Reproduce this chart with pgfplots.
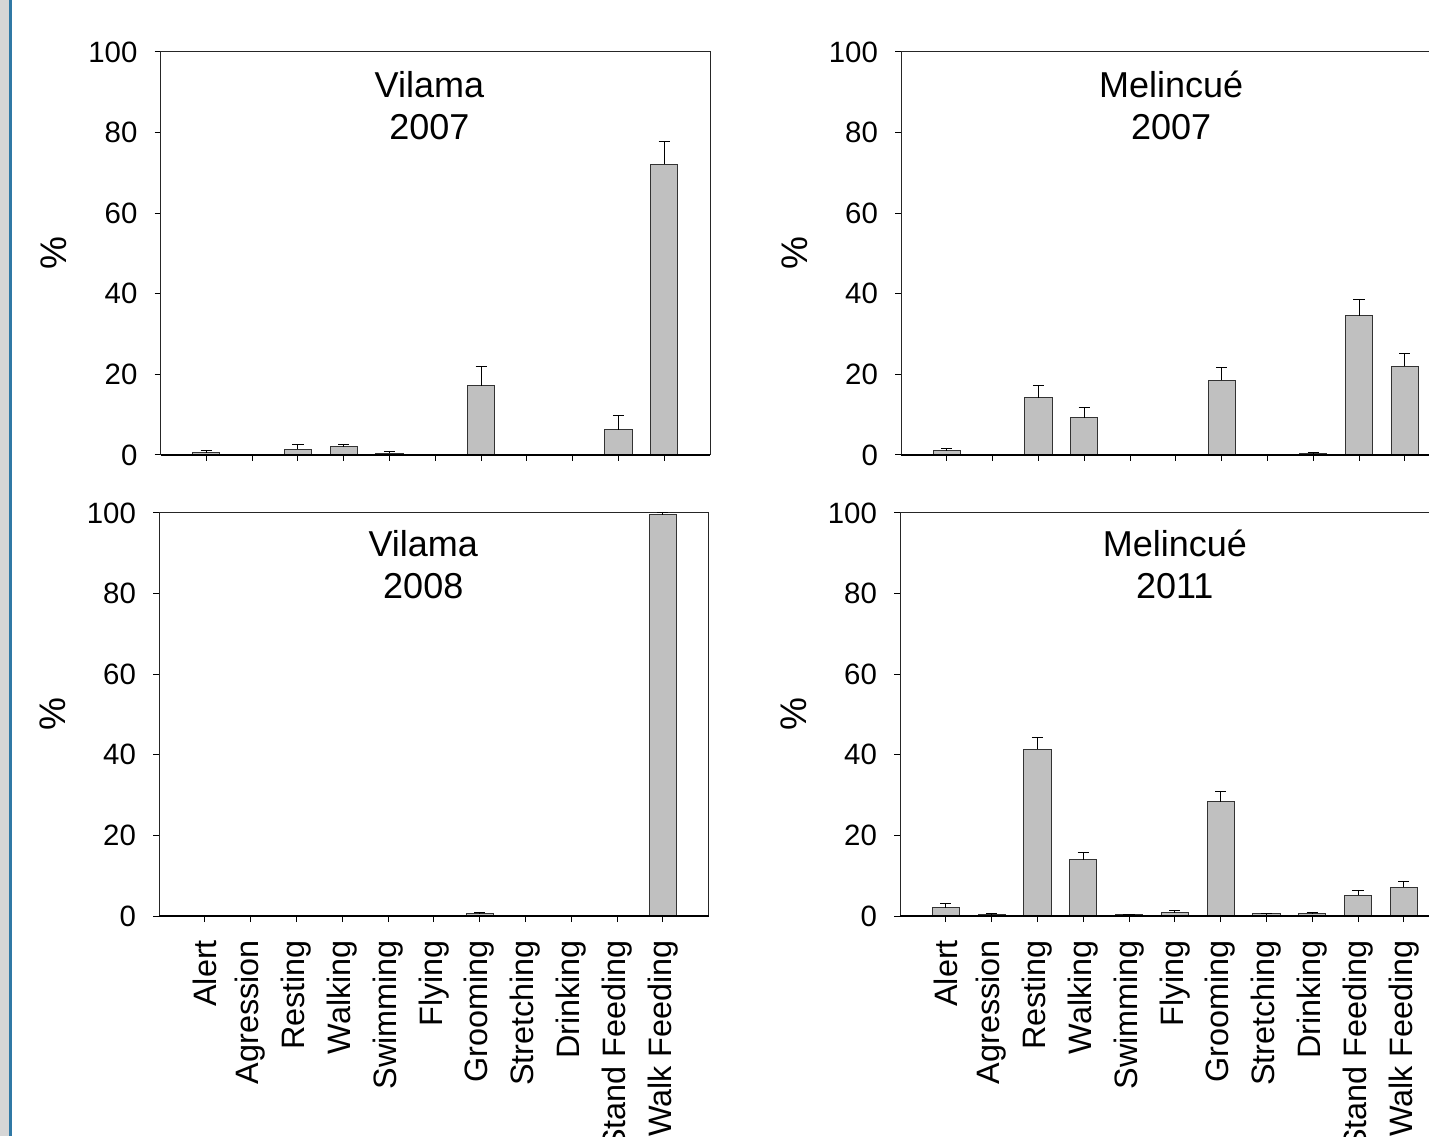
\documentclass[border=0pt]{standalone}
\usepackage{fontspec}
\setmainfont{Liberation Sans}
\usepackage{pgfplots}
\usepackage{pgfplotstable}
\pgfplotsset{compat=1.18}

\definecolor{barfill}{HTML}{C0C0C0}
\definecolor{frameblue}{HTML}{3079A5}
\definecolor{framegray}{HTML}{D6D6D6}

% columns: x (category index), value (%), error (+)
\pgfplotstableread{
x y e
0 0.6 0.5
2 1.4 1.1
3 2.0 0.6
4 0.4 0.5
6 17.2 4.8
9 6.3 3.4
10 72.1 5.8
}\vilamaA
\pgfplotstableread{
x y e
0 1.0 0.6
2 14.2 3.0
3 9.3 2.4
6 18.5 3.1
8 0.3 0.3
9 34.6 4.0
10 22.0 3.3
}\melincueA
\pgfplotstableread{
x y e
6 0.5 0.4
10 99.6 0.4
}\vilamaB
\pgfplotstableread{
x y e
0 2.0 1.0
1 0.4 0.15
2 41.4 3.0
3 14.0 1.7
4 0.3 0.1
5 0.8 0.45
6 28.3 2.5
7 0.5 0.1
8 0.6 0.15
9 5.2 1.1
10 7.1 1.5
}\melincueB

\pgfplotsset{
  panel/.style={
    scale only axis,
    width=274.8pt, height=201.5pt,
    anchor=south west,
    xmin=-1, xmax=11,
    ymin=0, ymax=100,
    ytick={0,20,40,60,80,100},
    xtick={0,1,...,10},
    tick pos=left,
    tick align=outside,
    major tick length=3pt,
    tick style={black, line width=0.5pt},
    axis line style={black!85, line width=0.5pt},
    clip=false,
    /pgf/number format/assume math mode=true,
    yticklabel style={font=\fontsize{14.7}{17}\selectfont, xshift=-5pt},
    ylabel={\%},
    ylabel style={at={(axis description cs:-0.194,0.5)}, anchor=center, font=\fontsize{18.5}{21}\selectfont},
    ybar, bar width=13.6pt,
  },
  nolabels/.style={xticklabels={}},
  catlabels/.style={
    xticklabels={Alert,Agression,Resting,Walking,Swimming,Flying,Grooming,Stretching,Drinking,Stand Feeding,Walk Feeding},
    xticklabel style={rotate=90, anchor=east, xshift=-5.5pt, font=\fontsize{16.2}{19}\selectfont},
  },
  barstyle/.style={
    draw=black!80, fill=barfill, line width=0.5pt,
    error bars/.cd, y dir=plus, y explicit,
    error bar style={black, line width=0.5pt},
    error mark options={black, line width=0.5pt, mark size=2.8pt, rotate=90},
  },
}
\newcommand{\titlefont}{\fontsize{18}{20}\selectfont}

\begin{document}
\begin{tikzpicture}
% window frame at the left edge
\fill[framegray] (0pt,0pt) rectangle (4.6pt,568pt);
\fill[frameblue] (4.6pt,0pt) rectangle (6.2pt,568pt);

% top left
\begin{axis}[panel, nolabels, at={(80.25pt,340.5pt)}]
\addplot[barstyle] table[x=x, y=y, y error=e] {\vilamaA};
\draw[black, line width=1pt] (rel axis cs:0,0) -- (rel axis cs:1,0);
\node[anchor=base, font=\titlefont] at (axis cs:4.87,88.8) {Vilama};
\node[anchor=base, font=\titlefont] at (axis cs:4.87,78.4) {2007};
\end{axis}

% top right
\begin{axis}[panel, nolabels, at={(450.5pt,340.5pt)}]
\addplot[barstyle] table[x=x, y=y, y error=e] {\melincueA};
\draw[black, line width=1pt] (rel axis cs:0,0) -- (rel axis cs:1,0);
\node[anchor=base, font=\titlefont] at (axis cs:4.9,88.8) {Melincué};
\node[anchor=base, font=\titlefont] at (axis cs:4.9,78.4) {2007};
\end{axis}

% bottom left
\begin{axis}[panel, catlabels, at={(79.5pt,110pt)}]
\addplot[barstyle] table[x=x, y=y, y error=e] {\vilamaB};
\draw[black, line width=1pt] (rel axis cs:0,0) -- (rel axis cs:1,0);
\node[anchor=base, font=\titlefont] at (axis cs:4.77,89.2) {Vilama};
\node[anchor=base, font=\titlefont] at (axis cs:4.77,78.9) {2008};
\end{axis}

% bottom right
\begin{axis}[panel, catlabels, at={(450pt,110pt)}]
\addplot[barstyle] table[x=x, y=y, y error=e] {\melincueB};
\draw[black, line width=1pt] (rel axis cs:0,0) -- (rel axis cs:1,0);
\node[anchor=base, font=\titlefont] at (axis cs:5.0,89.2) {Melincué};
\node[anchor=base, font=\titlefont] at (axis cs:5.0,78.9) {2011};
\end{axis}

\pgfresetboundingbox
\useasboundingbox (0pt,0pt) rectangle (714.5pt,568pt);
\end{tikzpicture}
\end{document}
